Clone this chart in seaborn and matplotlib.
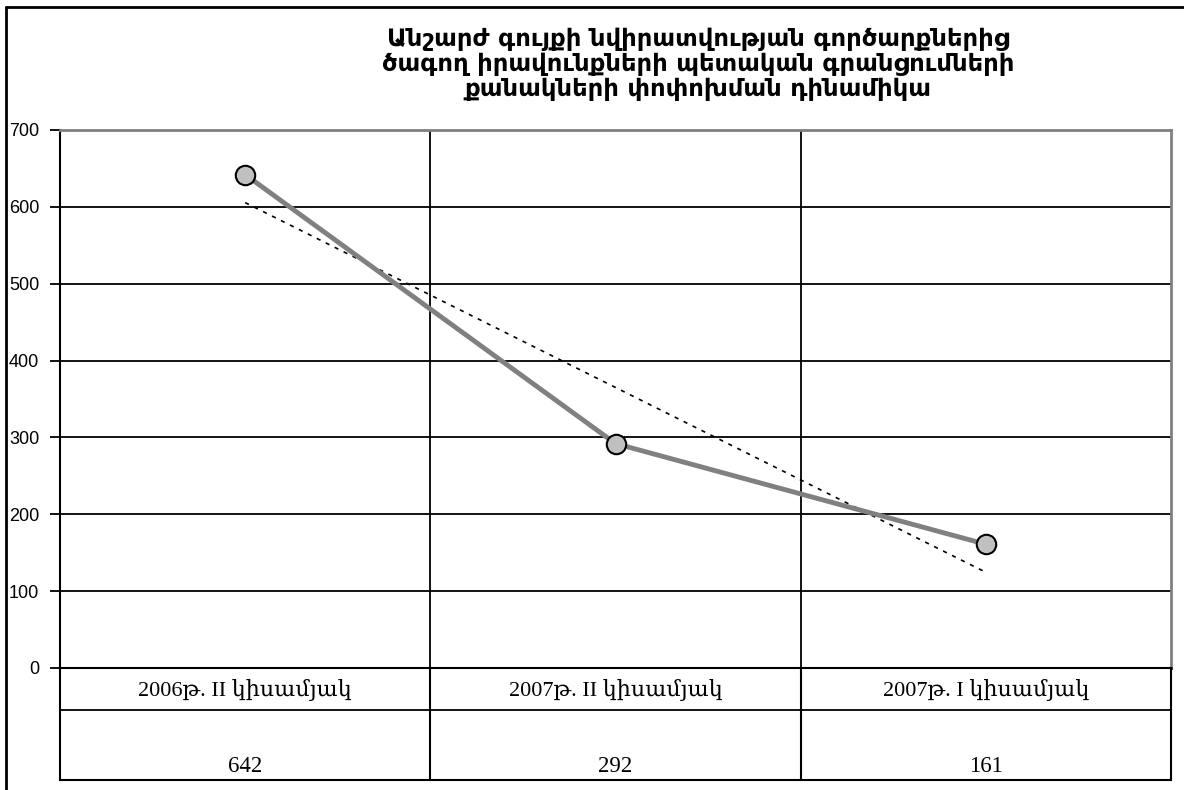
import matplotlib
matplotlib.use("Agg")
import matplotlib.pyplot as plt
import seaborn as sns
import pandas as pd
from matplotlib.lines import Line2D

# ---- data ----
categories = ["2006թ. II կիսամյակ", "2007թ. II կիսամյակ", "2007թ. I կիսամյակ"]
values = [642, 292, 161]
yticks = [0, 100, 200, 300, 400, 500, 600, 700]
title_text = ("Անշարժ գույքի նվիրատվության գործարքներից\n"
              "ծագող իրավունքների պետական գրանցումների\n"
              "քանակների փոփոխման դինամիկա")

sns.set_theme(style="white")
plt.rcParams["font.family"] = ["Liberation Sans", "DejaVu Sans"]

W, H = 1184, 790
fig = plt.figure(figsize=(W / 100, H / 100), dpi=100)
fig.patch.set_facecolor("white")

def px(l, t, r, b):
    return [l / W, 1 - b / H, (r - l) / W, (b - t) / H]

ax = fig.add_axes(px(60, 130, 1171, 668))
tax = fig.add_axes(px(60, 668, 1171, 780))

df = pd.DataFrame({"pos": list(range(len(categories))), "value": values, "cat": categories})

sns.regplot(data=df, x="pos", y="value", scatter=False, ci=None, truncate=True,
            line_kws=dict(color="black", lw=1.2, ls=(0, (2.5, 3.5)), zorder=2), ax=ax)
sns.lineplot(data=df, x="pos", y="value", color="#808080", lw=3.5, marker="o",
             markersize=14, markerfacecolor="#C0C0C0", markeredgecolor="black",
             markeredgewidth=1.5, ax=ax, zorder=3)

ax.set_xlim(-0.5, len(categories) - 0.5)
ax.set_ylim(0, 700)
ax.set_yticks(yticks)
ax.set_xticks([])
ax.set_xticks([i + 0.5 for i in range(len(categories) - 1)], minor=True)
ax.set_xlabel("")
ax.set_ylabel("")
ax.grid(True, axis="y", which="major", color="black", lw=1.3, zorder=1)
ax.grid(True, axis="x", which="minor", color="black", lw=1.3, zorder=1)
ax.tick_params(axis="y", which="major", left=True, length=7, width=1.3, color="black",
               pad=8, labelsize=13, labelcolor="black")
ax.tick_params(axis="x", which="minor", bottom=False, length=0)
for s in ["top", "right"]:
    ax.spines[s].set_color("#808080")
    ax.spines[s].set_linewidth(2)
ax.spines["left"].set_color("black")
ax.spines["left"].set_linewidth(1.5)
ax.spines["bottom"].set_color("black")
ax.spines["bottom"].set_linewidth(1.8)

# ---- data table ----
tax.set_xlim(-0.5, len(categories) - 0.5)
tax.set_ylim(0, 112)
tax.set_xticks([])
tax.set_yticks([])
for s in tax.spines.values():
    s.set_color("black")
    s.set_linewidth(1.5)
tax.axhline(70, color="black", lw=1.3)
for i in range(len(categories) - 1):
    tax.axvline(i + 0.5, color="black", lw=1.5)
serif = ["Liberation Serif", "DejaVu Serif"]
for i, (c, v) in enumerate(zip(categories, values)):
    tax.text(i, 90, c, ha="center", va="center", fontsize=16, family=serif, color="black")
    tax.text(i, 13, str(v), ha="center", va="center", fontsize=16.5, family=serif, color="black")

# ---- title ----
fig.text(698 / W, 1 - 64 / H, title_text, ha="center", va="center", fontsize=17.5,
         fontweight="bold", family=["DejaVu Sans"], linespacing=1.07, color="black")

# ---- outer frame ----
fig.add_artist(Line2D([6 / W, 1], [1 - 7 / H] * 2, transform=fig.transFigure, color="black", lw=2))
fig.add_artist(Line2D([6 / W] * 2, [0, 1 - 7 / H], transform=fig.transFigure, color="black", lw=2))

fig.savefig("out.png", dpi=100)
